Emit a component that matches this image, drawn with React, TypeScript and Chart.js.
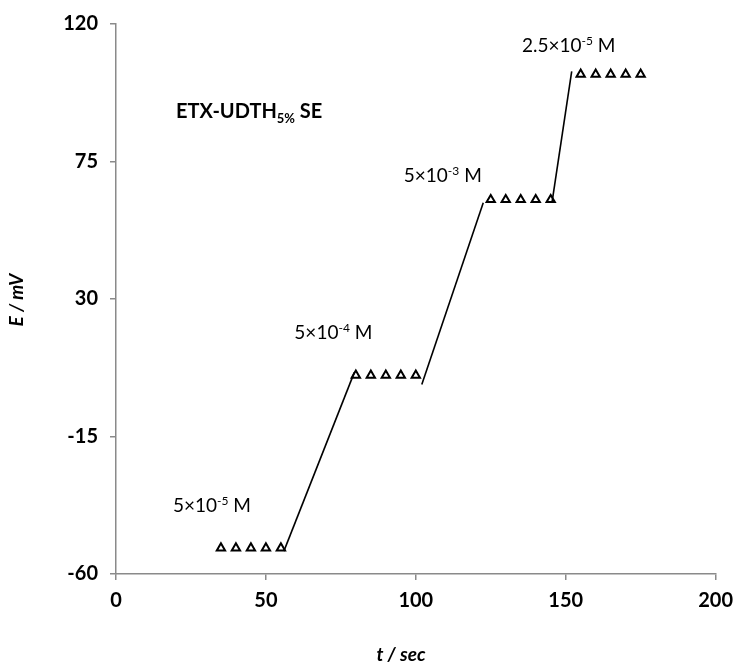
import React, { useEffect, useRef } from "react";
import { Chart, registerables } from "chart.js";

Chart.register(...registerables);

// Step plateaus (time in s, potential in mV)
const plateau1T = [35, 40, 45, 50, 55];
const plateau1E = [-51.5, -51.5, -51.5, -51.5, -51.5];
const plateau2T = [80, 85, 90, 95, 100];
const plateau2E = [5, 5, 5, 5, 5];
const plateau3T = [125, 130, 135, 140, 145];
const plateau3E = [62.5, 62.5, 62.5, 62.5, 62.5];
const plateau4T = [155, 160, 165, 170, 175];
const plateau4E = [103.5, 103.5, 103.5, 103.5, 103.5];

// Transition lines between plateaus
const rise1T = [56, 79.5];
const rise1E = [-52.5, 6];
const rise2T = [102, 122.5];
const rise2E = [2, 61.5];
const rise3T = [145.5, 152];
const rise3E = [62, 104.5];

// Concentration annotations
const annoMantissa = ["5×10", "5×10", "5×10", "2.5×10"];
const annoExponent = ["-5", "-4", "-3", "-5"];
const annoT = [32, 72.5, 109, 151];
const annoE = [-37.4, 19.2, 70.6, 113.1];

const xTicksMin = 0;
const xTicksMax = 200;
const xStep = 50;
const yTicksMin = -60;
const yTicksMax = 120;
const yStep = 45;

const titleMain = "ETX-UDTH";
const titleSub = "5%";
const titleTail = " SE";
const xTitle = "t / sec";
const yTitle = "E / mV";

const FONT = "Lato, 'Open Sans', sans-serif";

const zip = (t: number[], e: number[]) => t.map((x, i) => ({ x, y: e[i] }));

type Part = { text: string; font: string; dy: number };

function drawParts(ctx: CanvasRenderingContext2D, parts: Part[], x: number, y: number, align: "left" | "center") {
  let total = 0;
  for (const p of parts) {
    ctx.font = p.font;
    total += ctx.measureText(p.text).width;
  }
  let cx = align === "center" ? x - total / 2 : x;
  ctx.textAlign = "left";
  ctx.textBaseline = "alphabetic";
  for (const p of parts) {
    ctx.font = p.font;
    ctx.fillText(p.text, cx, y + p.dy);
    cx += ctx.measureText(p.text).width;
  }
}

const textPlugin = {
  id: "texts",
  afterDatasetsDraw(chart: any) {
    const ctx = chart.ctx as CanvasRenderingContext2D;
    const xs = chart.scales.x;
    const ys = chart.scales.y;
    ctx.save();
    ctx.fillStyle = "#000";
    for (let i = 0; i < annoT.length; i++) {
      const px = xs.getPixelForValue(annoT[i]);
      const py = ys.getPixelForValue(annoE[i]) + 7;
      drawParts(
        ctx,
        [
          { text: annoMantissa[i], font: `19px ${FONT}`, dy: 0 },
          { text: annoExponent[i], font: `12px ${FONT}`, dy: -7 },
          { text: " M", font: `19px ${FONT}`, dy: 0 },
        ],
        px,
        py,
        "center"
      );
    }
    const tx = xs.getPixelForValue(20);
    const ty = ys.getPixelForValue(91.5) + 7;
    drawParts(
      ctx,
      [
        { text: titleMain, font: `bold 20px ${FONT}`, dy: 0 },
        { text: titleSub, font: `bold 13px ${FONT}`, dy: 5 },
        { text: titleTail, font: `bold 20px ${FONT}`, dy: 0 },
      ],
      tx,
      ty,
      "left"
    );
    ctx.font = `italic bold 19px ${FONT}`;
    ctx.textAlign = "center";
    ctx.textBaseline = "middle";
    ctx.fillText(xTitle, 401, 655);
    ctx.save();
    ctx.translate(17, 300);
    ctx.rotate(-Math.PI / 2);
    ctx.fillText(yTitle, 0, 0);
    ctx.restore();
    ctx.restore();
  },
};

export default function App() {
  const ref = useRef<HTMLCanvasElement>(null);
  useEffect(() => {
    document.body.style.margin = "0";
    const canvas = ref.current!;
    const markerDs = (t: number[], e: number[]) => ({
      data: zip(t, e),
      showLine: false,
      pointStyle: "triangle",
      pointRadius: 4.8,
      pointBorderWidth: 2,
      pointBorderColor: "#000",
      pointBackgroundColor: "#fff",
    });
    const lineDs = (t: number[], e: number[]) => ({
      data: zip(t, e),
      showLine: true,
      borderColor: "#000",
      borderWidth: 1.6,
      pointRadius: 0,
      fill: false,
    });
    const axisColor = "#8a8a8a";
    const tickFont = { family: FONT, size: 20, weight: "bold" };
    const chart = new Chart(canvas, {
      type: "scatter",
      data: {
        datasets: [
          lineDs(rise1T, rise1E),
          lineDs(rise2T, rise2E),
          lineDs(rise3T, rise3E),
          markerDs(plateau1T, plateau1E),
          markerDs(plateau2T, plateau2E),
          markerDs(plateau3T, plateau3E),
          markerDs(plateau4T, plateau4E),
        ] as any,
      },
      options: {
        animation: false,
        responsive: false,
        layout: { padding: { top: 24, right: 16, left: 0, bottom: 0 } },
        plugins: { legend: { display: false }, tooltip: { enabled: false } },
        scales: {
          x: {
            type: "linear",
            min: xTicksMin,
            max: xTicksMax,
            afterFit: (s: any) => {
              s.height = 96;
            },
            ticks: { stepSize: xStep, color: "#000", font: tickFont, padding: 9 },
            grid: { drawOnChartArea: false, drawTicks: true, tickLength: 6, color: axisColor, lineWidth: 1.5 },
            border: { color: axisColor, width: 1.5 },
          },
          y: {
            type: "linear",
            min: yTicksMin,
            max: yTicksMax,
            afterFit: (s: any) => {
              s.width = 116;
            },
            ticks: { stepSize: yStep, color: "#000", font: tickFont, padding: 12 },
            grid: { drawOnChartArea: false, drawTicks: true, tickLength: 6, color: axisColor, lineWidth: 1.5 },
            border: { color: axisColor, width: 1.5 },
          },
        },
      } as any,
      plugins: [textPlugin],
    });
    return () => chart.destroy();
  }, []);
  return (
    <div style={{ position: "absolute", left: 0, top: 0, width: 742, height: 670, background: "#fff" }}>
      <canvas ref={ref} width={742} height={670} style={{ width: 742, height: 670 }} />
    </div>
  );
}
